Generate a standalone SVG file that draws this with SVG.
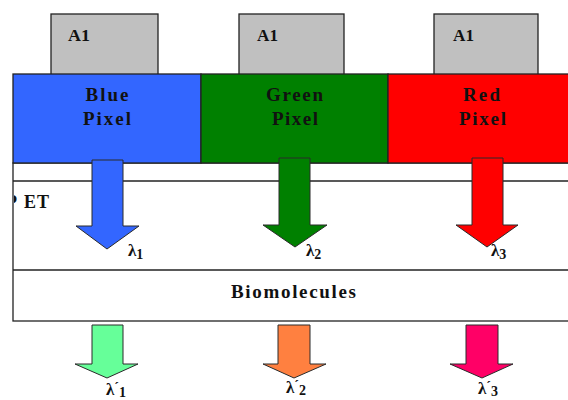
<svg xmlns="http://www.w3.org/2000/svg" width="568" height="400" viewBox="0 0 568 400">
  <defs>
    <style>
      .t { font-family: "Liberation Serif", "Times New Roman", serif; font-weight: bold; fill: #111; }
      .lbl { font-size: 19px; }
      .a1 { font-size: 17px; }
      .lam { font-size: 17px; }
      .sub { font-size: 14px; }
      .box { stroke: #222; stroke-width: 1.3; }
      .band { fill: #fff; stroke: #222; stroke-width: 1.3; }
      .arrow { stroke: #2a2a2a; stroke-width: 1; stroke-linejoin: miter; }
    </style>
    <clipPath id="petClip">
      <rect x="14" y="182" width="554" height="88"/>
    </clipPath>
  </defs>

  <rect width="568" height="400" fill="#fff"/>

  <!-- layered stack below the pixels -->
  <g id="layers">
    <rect class="band" x="13" y="163" width="560" height="158"/>
    <line class="box" x1="13" y1="181" x2="568" y2="181"/>
    <line class="box" x1="13" y1="270" x2="568" y2="270"/>
  </g>

  <g id="pet">
    <text class="t" font-size="18" x="6 24 37" y="208" clip-path="url(#petClip)">PET</text>
  </g>

  <g id="biomolecules">
    <text class="t lbl" x="231" y="298" textLength="125" lengthAdjust="spacing">Biomolecules</text>
  </g>

  <!-- A1 contact pads -->
  <g id="a1-blue">
    <rect class="box" x="51" y="14" width="107" height="61" fill="#c0c0c0"/>
    <text class="t a1" x="68" y="41" textLength="22" lengthAdjust="spacingAndGlyphs">A1</text>
  </g>
  <g id="a1-green">
    <rect class="box" x="239" y="14" width="105" height="61" fill="#c0c0c0"/>
    <text class="t a1" x="257" y="41" textLength="21" lengthAdjust="spacingAndGlyphs">A1</text>
  </g>
  <g id="a1-red">
    <rect class="box" x="434" y="14" width="104" height="61" fill="#c0c0c0"/>
    <text class="t a1" x="453" y="41" textLength="21" lengthAdjust="spacingAndGlyphs">A1</text>
  </g>

  <!-- pixels -->
  <g id="blue-pixel">
    <rect class="box" x="13" y="74" width="188" height="89" fill="#3366ff"/>
    <text class="t lbl" x="107" y="101" text-anchor="middle" textLength="43" lengthAdjust="spacing">Blue</text>
    <text class="t lbl" x="107" y="125" text-anchor="middle" textLength="48" lengthAdjust="spacing">Pixel</text>
  </g>
  <g id="green-pixel">
    <rect class="box" x="201" y="74" width="187" height="89" fill="#008000"/>
    <text class="t lbl" x="294.5" y="101" text-anchor="middle" textLength="57" lengthAdjust="spacing">Green</text>
    <text class="t lbl" x="295" y="125" text-anchor="middle" textLength="46" lengthAdjust="spacing">Pixel</text>
  </g>
  <g id="red-pixel">
    <rect class="box" x="388" y="74" width="185" height="89" fill="#ff0000"/>
    <text class="t lbl" x="481.5" y="101" text-anchor="middle" textLength="37" lengthAdjust="spacing">Red</text>
    <text class="t lbl" x="482.5" y="125" text-anchor="middle" textLength="47" lengthAdjust="spacing">Pixel</text>
  </g>

  <!-- emission arrows -->
  <g id="connectors">
    <polygon class="arrow" fill="#3366ff" points="92,160 123,160 123,226 139,226 107,249 76,226 92,226"/>
    <polygon class="arrow" fill="#008000" points="279,158 310,158 310,225 327,225 295,247 263,225 279,225"/>
    <polygon class="arrow" fill="#ff0000" points="472,158 503,158 503,225 518,225 487,247 456,225 472,225"/>

    <polygon class="arrow" fill="#66ff99" points="92,325 123,325 123,364 138,364 107,378 75,364 92,364"/>
    <polygon class="arrow" fill="#ff8040" points="278,325 310,325 310,364 326,364 294,378 263,364 278,364"/>
    <polygon class="arrow" fill="#ff0066" points="466,325 498,325 498,364 513,364 482,378 450,364 466,364"/>
  </g>

  <!-- wavelength labels -->
  <g id="labels">
    <text class="t lam" x="128" y="256">λ<tspan class="sub" dy="3">1</tspan></text>
    <text class="t lam" x="306" y="256">λ<tspan class="sub" dy="3">2</tspan></text>
    <text class="t lam" x="491" y="256">λ<tspan class="sub" dy="3">3</tspan></text>

    <text class="t lam" x="106" y="395">λ<tspan class="sub" dy="-3">´</tspan><tspan class="sub" dy="5">1</tspan></text>
    <text class="t lam" x="286" y="393">λ<tspan class="sub" dy="-3">´</tspan><tspan class="sub" dy="5">2</tspan></text>
    <text class="t lam" x="478" y="394">λ<tspan class="sub" dy="-3">´</tspan><tspan class="sub" dy="5">3</tspan></text>
  </g>
</svg>
